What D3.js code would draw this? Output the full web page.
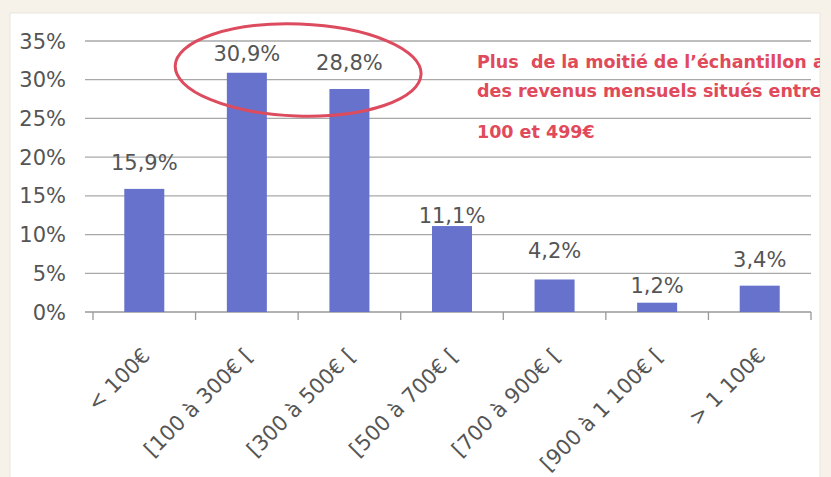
<!DOCTYPE html>
<html>
<head>
<meta charset="utf-8">
<script src="https://cdn.jsdelivr.net/npm/d3@7"></script>
<style>
  html, body { margin: 0; padding: 0; background: #f6f2e9; }
  svg { display: block; }
</style>
</head>
<body>
<div id="chart"></div>
<script>
// income brackets and share of sample (%)
var categories = ['< 100€', '[100 à 300€ [', '[300 à 500€ [', '[500 à 700€ [', '[700 à 900€ [', '[900 à 1 100€ [', '> 1 100€'];
var values = [15.9, 30.9, 28.8, 11.1, 4.2, 1.2, 3.4];
var yTicks = [0, 5, 10, 15, 20, 25, 30, 35];
var noteLines = ['Plus  de la moitié de l’échantillon a', 'des revenus mensuels situés entre', '100 et 499€'];

// label nudges as placed by hand in the original (px above bar top)
var labelLift = [19, 12, 19, 3, 21, 10, 19];

var W = 831, H = 477;
var svg = d3.select('#chart').append('svg')
    .attr('width', W)
    .attr('height', H);

// white chart frame
svg.append('rect')
    .attr('x', 10).attr('y', 13)
    .attr('width', 810).attr('height', H)
    .attr('fill', '#fff')
    .attr('stroke', '#ebe6da');

svg.append('clipPath').attr('id', 'frame')
    .append('rect').attr('x', 10).attr('y', 13).attr('width', 810).attr('height', H);

var x = d3.scaleBand().domain(categories).range([93, 811]).paddingInner(0.61).paddingOuter(0.305);
var y = d3.scaleLinear().domain([0, 35]).range([312, 41]);

var grey = '#555';
var font = 'DejaVu Sans, sans-serif';

// gridlines
svg.append('g').selectAll('line').data(yTicks).enter().append('line')
    .attr('x1', 85).attr('x2', 811)
    .attr('y1', function(d){ return y(d); })
    .attr('y2', function(d){ return y(d); })
    .attr('stroke', function(d){ return d === 0 ? '#999' : '#a8a8a8'; })
    .attr('stroke-width', 1.3);

// y labels
svg.append('g').selectAll('text').data(yTicks).enter().append('text')
    .attr('x', 66)
    .attr('y', function(d){ return y(d); })
    .attr('dy', '0.36em')
    .attr('text-anchor', 'end')
    .attr('font-family', font)
    .attr('font-size', 21)
    .attr('fill', grey)
    .text(function(d){ return d + '%'; });

// x ticks at band edges
var step = x.step();
var tickX = d3.range(categories.length + 1).map(function(i){ return 93 + i * step; });
svg.append('g').selectAll('line').data(tickX).enter().append('line')
    .attr('x1', function(d){ return d; }).attr('x2', function(d){ return d; })
    .attr('y1', 312).attr('y2', 320)
    .attr('stroke', '#999').attr('stroke-width', 1.3);

// bars
svg.append('g').selectAll('rect').data(values).enter().append('rect')
    .attr('x', function(d, i){ return x(categories[i]); })
    .attr('y', function(d){ return y(d); })
    .attr('width', x.bandwidth())
    .attr('height', function(d){ return y(0) - y(d); })
    .attr('fill', '#6672cb');

// value labels
svg.append('g').selectAll('text').data(values).enter().append('text')
    .attr('x', function(d, i){ return x(categories[i]) + x.bandwidth() / 2; })
    .attr('y', function(d, i){ return y(d) - labelLift[i]; })
    .attr('text-anchor', 'middle')
    .attr('font-family', font)
    .attr('font-size', 21)
    .attr('fill', grey)
    .text(function(d){ return d.toFixed(1).replace('.', ',') + '%'; });

// rotated category labels
svg.append('g').selectAll('text').data(categories).enter().append('text')
    .attr('transform', function(d){
        return 'translate(' + (x(d) + x.bandwidth() / 2 + 7) + ',357) rotate(-45)';
    })
    .attr('text-anchor', 'end')
    .attr('font-family', font)
    .attr('font-size', 21)
    .attr('fill', grey)
    .text(function(d){ return d; });

// red highlight ellipse round the two top bars
var cx = (x(categories[1]) + x(categories[2]) + x.bandwidth()) / 2;
svg.append('ellipse')
    .attr('cx', cx).attr('cy', 70)
    .attr('rx', 123).attr('ry', 46)
    .attr('transform', 'rotate(2,' + cx + ',70)')
    .attr('fill', 'none')
    .attr('stroke', '#dc4b5e')
    .attr('stroke-width', 3);

// red note, clipped by the frame like in the original
var noteY = [68, 97, 138];
svg.append('g').attr('clip-path', 'url(#frame)')
    .selectAll('text').data(noteLines).enter().append('text')
    .attr('x', 477)
    .attr('y', function(d, i){ return noteY[i]; })
    .attr('font-family', font)
    .attr('font-weight', 'bold')
    .attr('font-size', 17.5)
    .attr('fill', '#e04a5a')
    .style('white-space', 'pre')
    .text(function(d){ return d; });
</script>
</body>
</html>
